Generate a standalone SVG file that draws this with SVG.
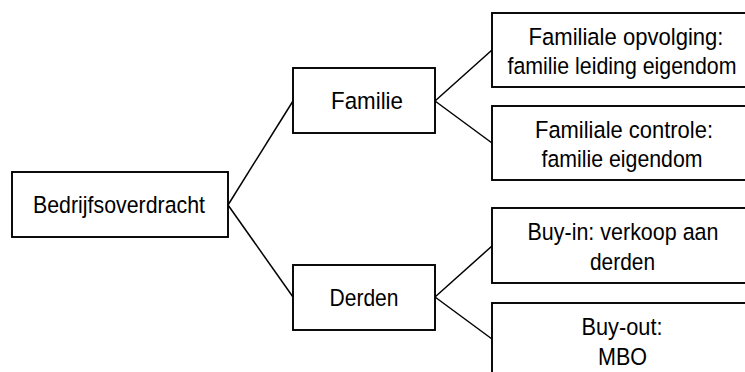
<svg xmlns="http://www.w3.org/2000/svg" width="745" height="372" viewBox="0 0 745 372">
<style>
rect{fill:#fff;stroke:#000;stroke-width:1.9}
line{stroke:#000;stroke-width:1.5}
text{font-family:"Liberation Sans",Arial,sans-serif;font-size:24.5px;fill:#000;text-anchor:middle}
</style>
<rect x="0" y="0" width="745" height="372" style="stroke:none"/>
<g id="connectors">
<line x1="228" y1="205" x2="293" y2="101"/>
<line x1="228" y1="205" x2="293" y2="297"/>
<line x1="435" y1="101" x2="492" y2="50"/>
<line x1="435" y1="101" x2="492" y2="143"/>
<line x1="435" y1="297" x2="492" y2="246"/>
<line x1="435" y1="297" x2="492" y2="339"/>
</g>
<g id="bedrijfsoverdracht">
<rect x="12" y="172" width="216" height="65"/>
<text x="119" y="213" textLength="172" lengthAdjust="spacingAndGlyphs">Bedrijfsoverdracht</text>
</g>
<g id="familie">
<rect x="293" y="68" width="142" height="65"/>
<text x="367" y="109" textLength="72" lengthAdjust="spacingAndGlyphs">Familie</text>
</g>
<g id="derden">
<rect x="293" y="265" width="142" height="65"/>
<text x="364" y="306" textLength="69" lengthAdjust="spacingAndGlyphs">Derden</text>
</g>
<g id="familiale-opvolging">
<rect x="492" y="13" width="262" height="74"/>
<text x="626" y="45" textLength="195" lengthAdjust="spacingAndGlyphs">Familiale opvolging:</text>
<text x="622" y="74" textLength="229" lengthAdjust="spacingAndGlyphs">familie leiding eigendom</text>
</g>
<g id="familiale-controle">
<rect x="492" y="106" width="262" height="74"/>
<text x="624" y="138" textLength="178" lengthAdjust="spacingAndGlyphs">Familiale controle:</text>
<text x="622" y="167" textLength="161" lengthAdjust="spacingAndGlyphs">familie eigendom</text>
</g>
<g id="buy-in">
<rect x="492" y="208" width="262" height="75"/>
<text x="623" y="240" textLength="191" lengthAdjust="spacingAndGlyphs">Buy-in: verkoop aan</text>
<text x="622.5" y="270" textLength="65" lengthAdjust="spacingAndGlyphs">derden</text>
</g>
<g id="buy-out">
<rect x="492" y="303" width="262" height="75"/>
<text x="622" y="335" textLength="81" lengthAdjust="spacingAndGlyphs">Buy-out:</text>
<text x="622.5" y="365" textLength="49" lengthAdjust="spacingAndGlyphs">MBO</text>
</g>
</svg>
